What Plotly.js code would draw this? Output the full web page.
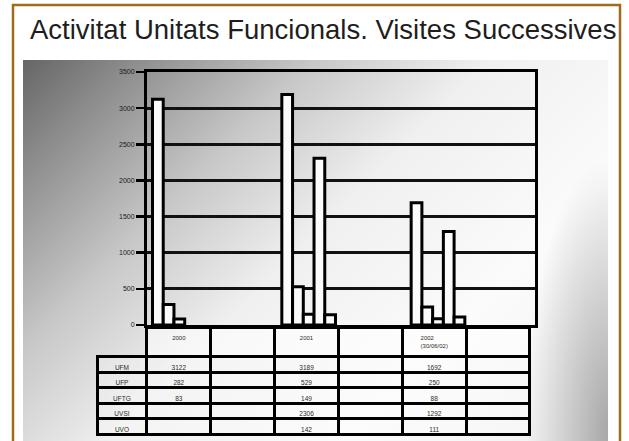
<!DOCTYPE html>
<html>
<head>
<meta charset="utf-8">
<script src="https://cdn.plot.ly/plotly-3.0.1.min.js"></script>
<style>
  html, body { margin: 0; padding: 0; background: #ffffff; width: 629px; height: 441px; overflow: hidden; }
  #bg {
    position: absolute; left: 23px; top: 60px; width: 585px; height: 390px;
    background:
      radial-gradient(ellipse 14% 70% at 100% 95%, rgba(0,0,0,0.30) 0%, rgba(0,0,0,0) 100%),
      linear-gradient(135deg, #666666 0%, #959595 14%, #c8c8c8 30%, #f0f0f0 48%, #fbfbfb 72%, #f0f0f0 100%);
  }
  #chart { position: absolute; left: 0; top: 0; width: 629px; height: 441px; }
</style>
</head>
<body>
<div id="bg"></div>
<div id="chart"></div>
<script>
// ---- data ----
const seriesNames = ['UFM', 'UFP', 'UFTG', 'UVSI', 'UVO'];
const years = ['2000', '2001', '2002'];
const yearHeaders = ['2000', '2001', '2002<br>(30/06/02)'];
const gapSlots = ['g1', 'g2', 'g3'];
const UFM  = [3122, 3189, 1692];
const UFP  = [282, 529, 250];
const UFTG = [83, 149, 88];
const UVSI = [null, 2306, 1292];
const UVO  = [null, 142, 111];
const yTickVals = [0, 500, 1000, 1500, 2000, 2500, 3000, 3500];
const titleText = 'Activitat Unitats Funcionals. Visites Successives';

// ---- build ----
const W = 629, H = 441;
const px = v => v / W;
const py = v => 1 - v / H;

const seriesValues = [UFM, UFP, UFTG, UVSI, UVO];
const categoryOrder = [];
years.forEach((y, i) => { categoryOrder.push(y); categoryOrder.push(gapSlots[i]); });

const traces = seriesNames.map((name, i) => ({
  type: 'bar',
  name: name,
  x: years,
  y: seriesValues[i],
  marker: { color: '#fbfbfb', line: { color: '#000000', width: 3 } },
  hoverinfo: 'skip'
}));

// table columns: label column, then per year: value column + empty column
const headerVals = [''];
const cellCols = [seriesNames];
years.forEach((y, i) => {
  headerVals.push(yearHeaders[i]);
  headerVals.push('');
  cellCols.push(seriesValues.map(s => (s[i] === null ? '' : String(s[i]))));
  cellCols.push(seriesNames.map(() => ''));
});
const nCols = headerVals.length;
const headerLineColors = headerVals.map((v, i) => i === 0 ? 'rgba(0,0,0,0)' : '#000000');
const headerFill = headerVals.map((v, i) => i === 0 ? 'rgba(0,0,0,0)' : 'rgba(255,255,255,0.55)');

traces.push({
  type: 'table',
  domain: { x: [px(97), px(530)], y: [py(438), py(327)] },
  columnwidth: [50].concat(Array(nCols - 1).fill(64)),
  header: {
    values: headerVals,
    height: 28,
    align: 'center',
    fill: { color: headerFill },
    line: { color: headerLineColors, width: 3 },
    font: { family: 'Liberation Sans, Arial', size: 6, color: '#2a2a2a' }
  },
  cells: {
    values: cellCols,
    height: 15.5,
    align: 'center',
    fill: { color: 'rgba(255,255,255,0.25)' },
    line: { color: '#000000', width: 3 },
    font: { family: 'Liberation Sans, Arial', size: 6.5, color: '#2a2a2a' }
  }
});

const layout = {
  width: W, height: H,
  margin: { l: 0, r: 0, t: 0, b: 0 },
  paper_bgcolor: 'rgba(0,0,0,0)',
  plot_bgcolor: 'rgba(0,0,0,0)',
  showlegend: false,
  barmode: 'group',
  bargap: 0.17,
  bargroupgap: 0,
  font: { family: 'Liberation Sans, Arial, sans-serif' },
  xaxis: {
    domain: [px(147), px(535)],
    type: 'category',
    categoryorder: 'array',
    categoryarray: categoryOrder,
    range: [-0.5, categoryOrder.length - 0.5],
    showticklabels: false,
    ticks: '',
    showgrid: false,
    showline: true, linecolor: '#000000', linewidth: 3, mirror: true,
    zeroline: false,
    fixedrange: true
  },
  yaxis: {
    domain: [py(325), py(72)],
    range: [0, 3500],
    tickvals: yTickVals,
    ticks: 'outside', ticklen: 8, tickwidth: 2.5, tickcolor: '#000000',
    tickfont: { family: 'Liberation Sans, Arial', size: 7, color: '#1a1a1a' },
    showgrid: true, gridcolor: '#111111', gridwidth: 3,
    showline: true, linecolor: '#000000', linewidth: 3, mirror: true,
    zeroline: false,
    fixedrange: true
  },
  annotations: [{
    text: titleText,
    xref: 'paper', yref: 'paper',
    x: px(28), y: py(12),
    xanchor: 'left', yanchor: 'top',
    showarrow: false,
    font: { family: 'Liberation Sans, Arial', size: 27.5, color: '#1e1e1e' }
  }],
  shapes: [{
    type: 'rect', xref: 'paper', yref: 'paper',
    x0: px(13), x1: px(620), y0: -0.1, y1: py(5),
    line: { color: '#9c6c1c', width: 2.5 },
    fillcolor: 'rgba(0,0,0,0)',
    layer: 'above'
  }]
};

Plotly.newPlot('chart', traces, layout, { staticPlot: true, displayModeBar: false });
</script>
</body>
</html>
